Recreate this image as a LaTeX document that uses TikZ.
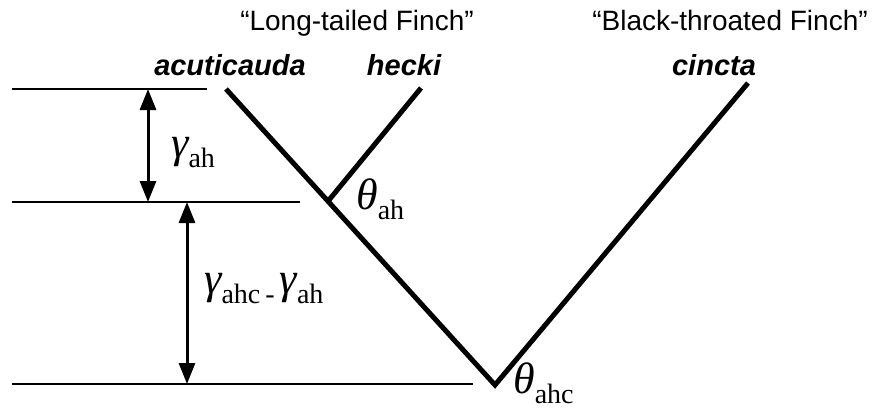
\documentclass[tikz,border=0pt]{standalone}
\usepackage{fontspec}
\setmainfont{Liberation Sans}
\newfontfamily\tms{Liberation Serif}
\usetikzlibrary{arrows.meta}
\tikzset{
  branch/.style={line width=5pt, line join=miter, line cap=butt},
  level/.style={line width=1.8pt},
  span/.style={line width=3pt, {Triangle[width=16pt,length=21pt]}-{Triangle[width=16pt,length=21pt]}},
  common/.style={font=\fontsize{28}{30}\selectfont, inner sep=0pt, anchor=base},
  taxon/.style={font=\fontsize{29}{30}\selectfont\bfseries\itshape, inner sep=0pt, anchor=base},
  sym/.style={inner sep=0pt, anchor=base west}
}
\newcommand{\grk}[2]{{\tms\fontsize{44}{46}\selectfont\itshape #1}{\tms\fontsize{28}{30}\selectfont\raisebox{-10pt}{#2}}}
\begin{document}
\begin{tikzpicture}[x=1pt,y=-1pt]
\useasboundingbox (0,0) rectangle (879,410);
% level lines
\coordinate (l1a) at (12,89);  \coordinate (l1b) at (207,89);
\coordinate (l2a) at (12,202); \coordinate (l2b) at (300,202);
\coordinate (l3a) at (12,384); \coordinate (l3b) at (473,384);
\draw[level] (l1a) -- (l1b);
\draw[level] (l2a) -- (l2b);
\draw[level] (l3a) -- (l3b);
% spans
\coordinate (s1t) at (148,89);  \coordinate (s1b) at (148,202);
\coordinate (s2t) at (187,202); \coordinate (s2b) at (187,384);
\draw[span] (s1t) -- (s1b);
\draw[span] (s2t) -- (s2b);
% tree
\coordinate (ta) at (226,89);
\coordinate (th) at (421,88);
\coordinate (tc) at (748,83);
\coordinate (tj) at (329,200);
\coordinate (tv) at (495,385);
\draw[branch] (ta) -- (tv) -- (tc);
\draw[branch] (th) -- (tj);
% labels
\node[common] (lt) at (357,30) {“Long-tailed Finch”};
\node[common] (bt) at (730,30) {“Black-throated Finch”};
\node[taxon] (na) at (230,75) {acuticauda};
\node[taxon] (nh) at (404,75) {hecki};
\node[taxon] (nc) at (714,75) {cincta};
\node[sym] (g1) at (171,157) {\grk{γ}{ah}};
\node[sym] (t1) at (356,209) {\grk{θ}{ah}};
\node[sym] (g2) at (204,293) {\grk{γ}{ahc}{\tms\fontsize{28}{30}\selectfont\raisebox{-10pt}{\kern5pt-\kern5pt}}\grk{γ}{ah}};
\node[sym] (t2) at (513,393) {\grk{θ}{ahc}};
\end{tikzpicture}
\end{document}
